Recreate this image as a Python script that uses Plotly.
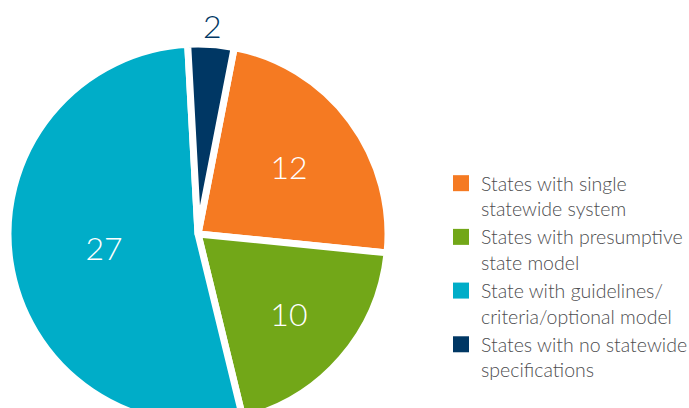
import math
import plotly.graph_objects as go

labels = [
    "States with single<br>statewide system",
    "States with presumptive<br>state model",
    "State with guidelines/<br>criteria/optional model",
    "States with no statewide<br>specifications",
]
values = [12, 10, 27, 2]
colors = ["#F57A22", "#72A718", "#00ADC8", "#003764"]

W, H = 689, 428
cx, cy, r = 198, 234, 190
rotation = 11

fig = go.Figure()
fig.add_trace(go.Pie(
    labels=labels,
    values=values,
    sort=False,
    direction="clockwise",
    rotation=rotation,
    marker=dict(colors=colors, line=dict(color="white", width=7)),
    textinfo="value",
    textposition=["inside", "inside", "inside", "none"],
    insidetextfont=dict(color="white", size=32, family="Lato", weight=300),
    insidetextorientation="horizontal",
    hoverinfo="skip",
    showlegend=False,
    domain=dict(x=[(cx - r) / W, (cx + r) / W],
                y=[1 - (cy + r) / H, 1 - (cy - r) / H]),
))

# label of the small slice, placed outside at its mid angle (derived from data)
total = sum(values)
mid = rotation + 360 * (sum(values[:-1]) + values[-1] / 2) / total
rad = math.radians(mid)
dist = r + 19
lx = cx + dist * math.sin(rad)
ly = cy - dist * math.cos(rad)
fig.add_annotation(
    x=lx / W, y=1 - ly / H, xref="paper", yref="paper",
    text=str(values[-1]), showarrow=False,
    xanchor="center", yanchor="middle",
    font=dict(color=colors[-1], size=32, family="Lato", weight=300),
)

for lab, col in zip(labels, colors):
    fig.add_trace(go.Scatter(
        x=[None], y=[None], mode="markers", name=lab,
        marker=dict(symbol="square", size=16, color=col),
        showlegend=True, hoverinfo="skip",
    ))

fig.update_layout(
    width=W, height=H,
    margin=dict(l=0, r=0, t=0, b=0, autoexpand=False),
    paper_bgcolor="white",
    plot_bgcolor="white",
    xaxis=dict(visible=False),
    yaxis=dict(visible=False),
    showlegend=True,
    legend=dict(
        x=441 / W, xanchor="left",
        y=1 - 164 / H, yanchor="top",
        valign="top",
        font=dict(family="Lato", size=19.5, color="#4D4D4F", weight=300),
        bgcolor="rgba(0,0,0,0)",
        itemclick=False, itemdoubleclick=False,
    ),
)

post = ("document.documentElement.style.overflow='hidden';"
        "document.body.style.overflow='hidden';"
        "document.body.style.margin='0';")
fig.write_html("out.html", post_script=post, config={"displayModeBar": False})
